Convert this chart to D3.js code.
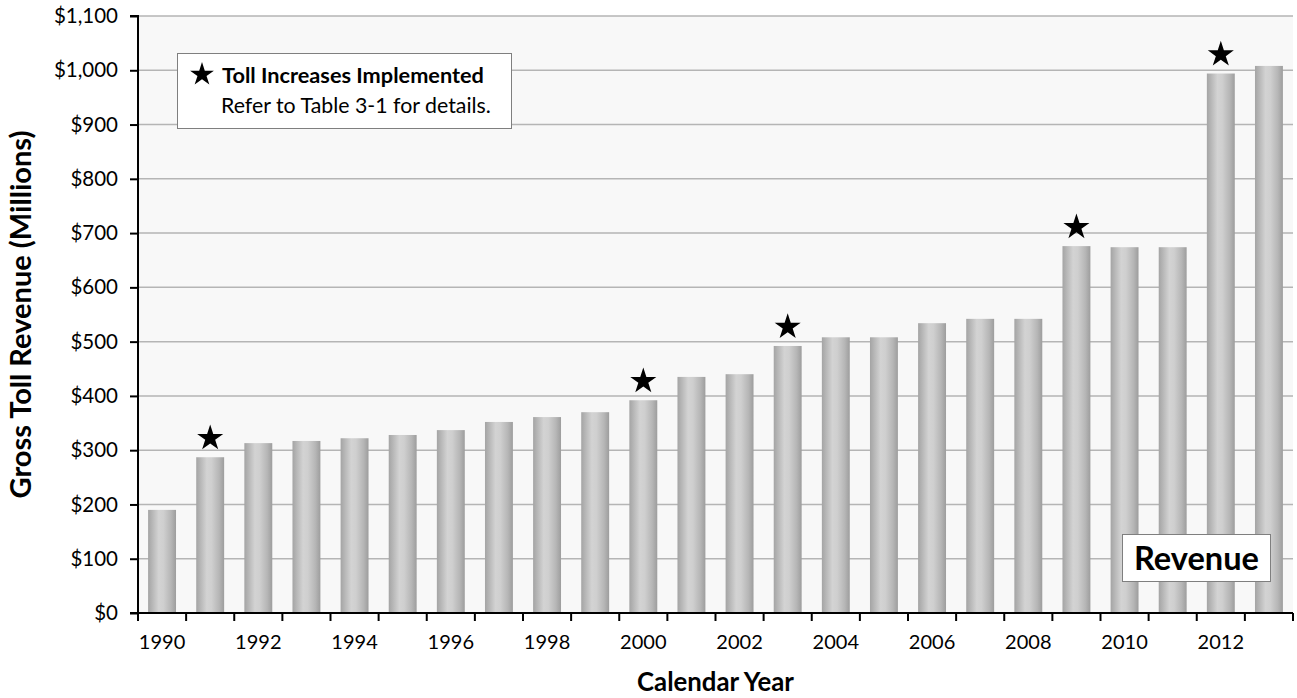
<!DOCTYPE html>
<html>
<head>
<meta charset="utf-8">
<script src="https://cdn.jsdelivr.net/npm/d3@7"></script>
<style>
  html, body { margin: 0; padding: 0; background: #ffffff; }
  svg { display: block; font-family: Lato, "Open Sans", sans-serif; }
</style>
</head>
<body>
<svg id="chart" width="1297" height="698"></svg>
<script>
// Gross toll revenue by calendar year, in millions of dollars
const years = [1990, 1991, 1992, 1993, 1994, 1995, 1996, 1997, 1998, 1999, 2000, 2001,
               2002, 2003, 2004, 2005, 2006, 2007, 2008, 2009, 2010, 2011, 2012, 2013];
const revenue = [190, 287, 313, 317, 322, 328, 337, 352, 361, 370, 392, 435,
                 440, 492, 508, 508, 534, 542, 542, 676, 674, 674, 994, 1008];
// Years in which a toll increase took effect
const tollIncreaseYears = [1991, 2000, 2003, 2009, 2012];
const yTicks = [0, 100, 200, 300, 400, 500, 600, 700, 800, 900, 1000, 1100];
const xLabelYears = [1990, 1992, 1994, 1996, 1998, 2000, 2002, 2004, 2006, 2008, 2010, 2012];

const svg = d3.select("#chart");
const margin = { left: 138, right: 4, top: 16, bottom: 85 };
const W = 1297, H = 698;
const plotW = W - margin.left - margin.right;
const plotH = H - margin.top - margin.bottom;

const x = d3.scaleBand().domain(years).range([0, plotW]).paddingInner(0.42).paddingOuter(0.21);
const y = d3.scaleLinear().domain([0, 1100]).range([plotH, 0]);

// scale a text element's font size so its rendered width equals `w`
function fitWidth(sel, w) {
  const node = sel.node();
  const fs = parseFloat(sel.attr("font-size"));
  const len = node.getComputedTextLength();
  if (len > 0) sel.attr("font-size", (fs * w / len).toFixed(2) + "px");
  return sel;
}

const defs = svg.append("defs");
const grad = defs.append("linearGradient").attr("id", "barShade")
  .attr("x1", "0%").attr("x2", "100%").attr("y1", "0%").attr("y2", "0%");
[["0%", "#a4a4a4"], ["38%", "#d3d3d3"], ["55%", "#cfcfcf"], ["82%", "#b6b6b6"], ["100%", "#9d9d9d"]]
  .forEach(([o, c]) => grad.append("stop").attr("offset", o).attr("stop-color", c));

const g = svg.append("g").attr("transform", `translate(${margin.left},${margin.top})`);

// plot background
g.append("rect").attr("width", plotW).attr("height", plotH).attr("fill", "#f8f8f8");

// horizontal gridlines
g.append("g").selectAll("line").data(yTicks.filter(d => d > 0)).join("line")
  .attr("x1", 0).attr("x2", plotW)
  .attr("y1", d => y(d)).attr("y2", d => y(d))
  .attr("stroke", "#b5b5b5").attr("stroke-width", 1.5);

// bars
g.append("g").selectAll("rect").data(years).join("rect")
  .attr("x", (d) => x(d))
  .attr("width", x.bandwidth())
  .attr("y", (d, i) => y(revenue[i]))
  .attr("height", (d, i) => plotH - y(revenue[i]))
  .attr("fill", "url(#barShade)");

// five-pointed star path centred on (0,0)
function starPath(R) {
  const r = R * 0.382;
  const pts = d3.range(10).map(i => {
    const a = -Math.PI / 2 + i * Math.PI / 5;
    const rad = i % 2 === 0 ? R : r;
    return [rad * Math.cos(a), rad * Math.sin(a)];
  });
  return "M" + pts.map(p => p.join(",")).join("L") + "Z";
}

// toll increase markers above bars
g.append("g").selectAll("path").data(tollIncreaseYears).join("path")
  .attr("d", starPath(13.7))
  .attr("transform", d => {
    const v = revenue[years.indexOf(d)];
    return `translate(${x(d) + x.bandwidth() / 2},${y(v) - 19})`;
  })
  .attr("fill", "#000");

// y axis
const yAxis = g.append("g").call(
  d3.axisLeft(y).tickValues(yTicks).tickSize(8).tickPadding(12)
    .tickFormat(d => "$" + d3.format(",")(d))
);
yAxis.select(".domain").attr("stroke", "#000").attr("stroke-width", 2).attr("d", `M-8,0H0V${plotH}H-8`);
yAxis.selectAll(".tick line").attr("stroke", "#000").attr("stroke-width", 2);
yAxis.selectAll("text").attr("font-size", "20.5px").attr("fill", "#000").attr("font-family", "Lato");

// x axis: ticks at category boundaries, labels on every other year
const edge = d3.scaleLinear().domain([0, years.length]).range([0, plotW]);
const xAxis = g.append("g").attr("transform", `translate(0,${plotH})`);
xAxis.append("line").attr("x1", -1).attr("x2", plotW).attr("y1", 0).attr("y2", 0)
  .attr("stroke", "#000").attr("stroke-width", 2);
xAxis.selectAll("line.edge").data(d3.range(years.length + 1)).join("line")
  .attr("class", "edge")
  .attr("x1", d => edge(d)).attr("x2", d => edge(d))
  .attr("y1", 0).attr("y2", 8)
  .attr("stroke", "#000").attr("stroke-width", 2);
xAxis.selectAll("text").data(xLabelYears).join("text")
  .attr("x", d => x(d) + x.bandwidth() / 2)
  .attr("y", 36)
  .attr("text-anchor", "middle")
  .attr("font-size", "20px")
  .text(d => d);

// axis titles
fitWidth(svg.append("text")
  .attr("x", margin.left + plotW / 2).attr("y", 691)
  .attr("text-anchor", "middle").attr("font-weight", "bold").attr("font-size", "20px")
  .text("Calendar Year"), 157);
fitWidth(svg.append("text")
  .attr("transform", `translate(31,${margin.top + plotH / 2}) rotate(-90)`)
  .attr("text-anchor", "middle").attr("font-weight", "bold").attr("font-size", "20px")
  .text("Gross Toll Revenue (Millions)"), 368);

// legend box
const leg = svg.append("g");
leg.append("rect").attr("x", 177.5).attr("y", 53.5).attr("width", 334).attr("height", 75)
  .attr("fill", "#fff").attr("stroke", "#7f7f7f").attr("stroke-width", 1);
leg.append("path").attr("d", starPath(12.5)).attr("transform", "translate(202,74.5)").attr("fill", "#000");
fitWidth(leg.append("text").attr("x", 222).attr("y", 83).attr("font-weight", "bold").attr("font-size", "20px")
  .text("Toll Increases Implemented"), 262);
fitWidth(leg.append("text").attr("x", 221).attr("y", 113).attr("font-size", "20px")
  .text("Refer to Table 3-1 for details."), 270);

// series label box
const lab = svg.append("g");
lab.append("rect").attr("x", 1122.5).attr("y", 534.5).attr("width", 148).attr("height", 47)
  .attr("fill", "#fff").attr("stroke", "#7f7f7f").attr("stroke-width", 1);
fitWidth(lab.append("text").attr("x", 1196.5).attr("y", 570).attr("text-anchor", "middle")
  .attr("font-weight", "bold").attr("font-size", "30px")
  .text("Revenue"), 125);
</script>
</body>
</html>
